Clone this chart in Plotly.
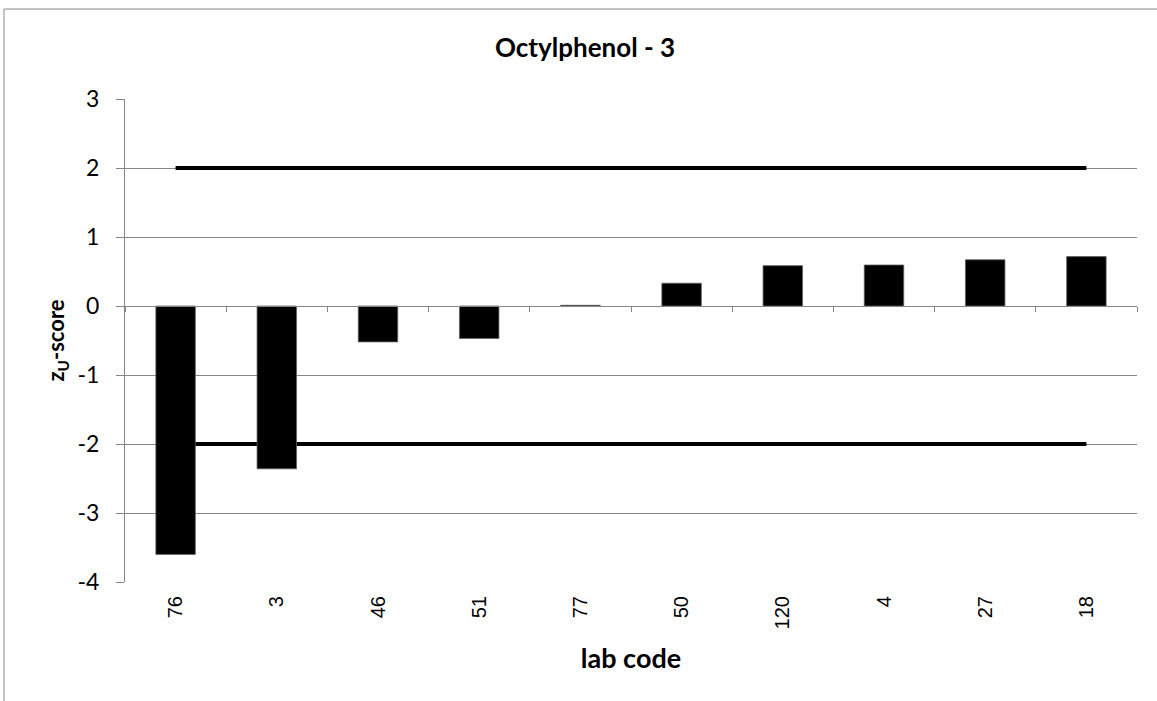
import plotly.graph_objects as go

lab_codes = ["76", "3", "46", "51", "77", "50", "120", "4", "27", "18"]
z_scores = [-3.60, -2.36, -0.52, -0.47, 0.01, 0.33, 0.585, 0.594, 0.67, 0.716]
upper_limit = [2] * len(lab_codes)
lower_limit = [-2] * len(lab_codes)
y_tick_vals = [-4, -3, -2, -1, 0, 1, 2, 3]
y_tick_text = ["-4", "-3", "-2", "-1", "0", "1", "2", "3"]

W, H = 1157, 701
ml, mr, mt, mb = 125, 20, 99, 119
pw, ph = W - ml - mr, H - mt - mb
ymin, ymax = -4, 3

fig = go.Figure()
fig.add_trace(go.Scatter(x=lab_codes, y=upper_limit, mode="lines",
                         line=dict(color="black", width=4), xaxis="x", yaxis="y",
                         showlegend=False, hoverinfo="skip"))
fig.add_trace(go.Scatter(x=lab_codes, y=lower_limit, mode="lines",
                         line=dict(color="black", width=4), xaxis="x", yaxis="y",
                         showlegend=False, hoverinfo="skip"))
fig.add_trace(go.Bar(x=lab_codes, y=z_scores, width=0.39,
                     marker=dict(color="black", line=dict(color="#606060", width=0.8)),
                     xaxis="x2", yaxis="y", showlegend=False))

zero_pos = (0 - ymin) / (ymax - ymin)
font_main = "Lato, Open Sans, sans-serif"

fig.update_layout(
    width=W, height=H,
    margin=dict(l=ml, r=mr, t=mt, b=mb),
    paper_bgcolor="white", plot_bgcolor="white",
    title=dict(text="<b>Octylphenol - 3</b>", x=585 / W, xanchor="center",
               y=1 - 48 / H, yanchor="middle",
               font=dict(family=font_main, size=26, color="black")),
    xaxis=dict(type="category", categoryorder="array", categoryarray=lab_codes,
               range=[-0.5, len(lab_codes) - 0.5],
               showgrid=False, zeroline=False, showline=False, ticks="",
               tickangle=-90, ticklabelstandoff=9,
               tickfont=dict(family="Liberation Sans, Arial, sans-serif", size=20, color="black"),
               title=dict(text="<b>lab code</b>", standoff=20,
                          font=dict(family=font_main, size=27, color="black"))),
    xaxis2=dict(type="category", categoryorder="array", categoryarray=lab_codes,
                range=[-0.5, len(lab_codes) - 0.5], matches="x",
                overlaying="x", anchor="free", position=zero_pos, side="bottom",
                showgrid=False, zeroline=False, showline=True, linecolor="#868686", linewidth=1,
                ticks="outside", tickson="boundaries", ticklen=5, tickcolor="#868686",
                showticklabels=False),
    yaxis=dict(range=[ymin, ymax], tickmode="array", tickvals=y_tick_vals, ticktext=y_tick_text,
               showgrid=True, gridcolor="#868686", gridwidth=1,
               zeroline=False, showline=True, linecolor="#868686", linewidth=1,
               ticks="outside", ticklen=8, tickcolor="#868686", ticklabelstandoff=12,
               tickfont=dict(family=font_main, size=23, color="black"),
               title=dict(text="<b>z<sub>U</sub>-score</b>", standoff=6,
                          font=dict(family=font_main, size=22, color="black"))),
    shapes=[dict(type="rect", xref="paper", yref="paper", layer="below",
                 x0=(4 - ml) / pw, x1=(W + 5 - ml) / pw,
                 y0=-(H + 5 - mt - ph) / ph, y1=1 + (mt - 9) / ph,
                 line=dict(color="#868686", width=1), fillcolor="rgba(0,0,0,0)")],
)

fig.write_html("out.html", config={"displayModeBar": False},
               post_script="document.body.style.margin='0';")
